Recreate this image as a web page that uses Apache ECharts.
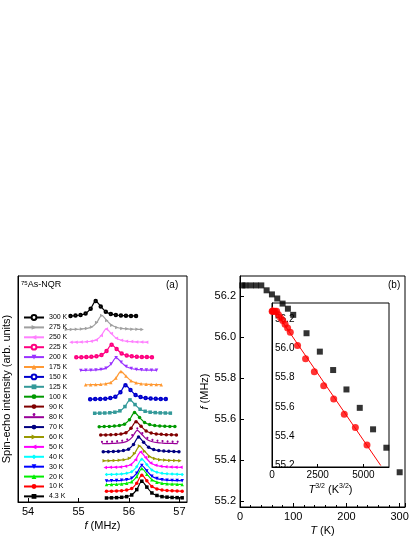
<!DOCTYPE html>
<html><head><meta charset="utf-8">
<script src="https://cdn.jsdelivr.net/npm/echarts@6/dist/echarts.min.js"></script>
<style>html,body{margin:0;background:#fff}#c{width:415px;height:537px}</style>
</head><body><div id="c"></div>
<script>
var temps = ['300 K','275 K','250 K','225 K','200 K','175 K','150 K','125 K','100 K','90 K','80 K','70 K','60 K','50 K','40 K','30 K','20 K','10 K','4.3 K'];
var tempK = [300,275,250,225,200,175,150,125,100,90,80,70,60,50,40,30,20,10,4.3];
var freq = [55.34,55.46,55.55,55.655,55.745,55.84,55.93,56.02,56.11,56.14,56.165,56.19,56.21,56.23,56.254,56.254,56.254,56.254,56.254];
var tPow = [5196,4560,3953,3375,2828,2315,1837,1398,1000,854,716,586,465,354,253,164,89,32,9];
var fitLine = [[0,56.285],[5950,55.2]];
var baseLine = [560,520,482,437,398,355,312,270,230,205,179,155,128,108,87,68,57,37,17];
var peakH = [45,42,40,38,38,40,42,40,42,40,40,44,44,46,46,46,48,48,50];
var shapeOff = [-0.7,-0.6,-0.5,-0.4,-0.3,-0.2,-0.1,0,0.1,0.2,0.3,0.4,0.5,0.6,0.7,0.8];
var shapeVal = [0,0.01,0.02,0.04,0.08,0.18,0.5,1.0,0.65,0.3,0.15,0.08,0.05,0.03,0.02,0.01];
var colors = ['#000000','#a0a0a0','#ff80ff','#ff0080','#9933ff','#ff9933','#0000cc','#339999','#009900','#800000','#990099','#000080','#999900','#ff00ff','#00ffff','#0000ff','#00ee00','#ff0000','#000000'];
var symbols = ['emptyCircle','triangle','triangle','emptyCircle','triangle','triangle','emptyCircle','rect','circle','circle','pin','circle','triangle','triangle','diamond','triangle','triangle','circle','rect'];
var symRot = [0,-90,90,0,180,0,0,0,0,0,0,0,-90,90,0,180,0,0,0];

var chart = echarts.init(document.getElementById('c'));
var ff = 'Liberation Sans, Arial, sans-serif';
var series = [];
temps.forEach(function(name, i) {
    var pts = [];
    for (var k = 0; k < shapeOff.length; k++) {
        // the 300 K curve starts right after its legend text
        if (i === 0 && shapeOff[k] < -0.55) continue;
        pts.push([freq[i] + shapeOff[k], baseLine[i] + peakH[i] * shapeVal[k]]);
    }
    series.push({
        name: name, type: 'line', xAxisIndex: 0, yAxisIndex: 0, data: pts,
        smooth: 0.3, symbol: symbols[i], symbolRotate: symRot[i],
        symbolSize: symbols[i] === 'emptyCircle' ? 2.5 : 3.5,
        lineStyle: {color: colors[i], width: 1.2}, itemStyle: {color: colors[i], borderWidth: 0.8}, z: 2
    });
});
// panel b main
series.push({
    type: 'scatter', xAxisIndex: 1, yAxisIndex: 1, symbol: 'rect', symbolSize: 6,
    itemStyle: {color: '#000'},
    data: tempK.map(function(t, i) { return [t, freq[i]]; })
});
// inset
series.push({
    type: 'line', xAxisIndex: 2, yAxisIndex: 2, data: fitLine, symbol: 'none',
    lineStyle: {color: '#ff0000', width: 1}
});
series.push({
    type: 'scatter', xAxisIndex: 2, yAxisIndex: 2, symbolSize: 7,
    itemStyle: {color: '#ff0000'},
    data: tPow.map(function(t, i) { return [t, freq[i]]; }), z: 5
});

function axisBase(extra) {
    var a = {
        axisLine: {onZero: false, lineStyle: {color: '#000', width: 1}},
        axisTick: {inside: true, length: 4, lineStyle: {color: '#000'}},
        minorTick: {show: true, length: 2, lineStyle: {color: '#000'}},
        splitLine: {show: false},
        axisLabel: {color: '#000', fontSize: 11, fontFamily: ff, margin: 4},
        nameTextStyle: {color: '#000', fontSize: 11, fontFamily: ff}
    };
    for (var k in extra) a[k] = extra[k];
    return a;
}
var fmt1 = function(v) { return v.toFixed(1); };
var yTicks = [55.2,55.4,55.6,55.8,56.0,56.2];

var option = {
    animation: false,
    backgroundColor: '#fff',
    grid: [
        {left: 18, top: 276, width: 169, height: 226, show: true, borderColor: '#000', borderWidth: 1},
        {left: 240, top: 276, width: 165, height: 232, show: true, borderColor: '#000', borderWidth: 1},
        {left: 272, top: 303, width: 117, height: 164, show: true, borderColor: '#000', borderWidth: 1, backgroundColor: '#fff'}
    ],
    legend: {
        orient: 'vertical', left: 18, top: 309, itemWidth: 20, itemHeight: 6, itemGap: 2.9, z: 10,
        data: temps, textStyle: {fontSize: 7, fontFamily: ff, color: '#000'}
    },
    xAxis: [
        axisBase({gridIndex: 0, type: 'value', min: 53.8, max: 57.15,
            axisLabel: {color: '#000', fontSize: 11, fontFamily: ff, margin: 4, customValues: [54,55,56,57]},
            axisTick: {inside: true, length: 4, customValues: [54,55,56,57], lineStyle: {color: '#000'}},
            minorTick: {show: false},
            name: '{i|f} (MHz)', nameLocation: 'middle', nameGap: 18,
            nameTextStyle: {color: '#000', fontSize: 11, fontFamily: ff, rich: {i: {fontStyle: 'italic', fontSize: 11, fontFamily: ff}}}}),
        axisBase({gridIndex: 1, type: 'value', min: 0, max: 310, interval: 100,
            name: '{i|T} (K)', nameLocation: 'middle', nameGap: 18,
            nameTextStyle: {color: '#000', fontSize: 11, fontFamily: ff, rich: {i: {fontStyle: 'italic', fontSize: 11, fontFamily: ff}}}}),
        axisBase({gridIndex: 2, type: 'value', min: 0, max: 6400,
            axisLabel: {color: '#000', fontSize: 10, fontFamily: ff, margin: 3, customValues: [0,2500,5000], formatter: function(v){return String(v);}},
            axisTick: {inside: true, length: 3, customValues: [0,2500,5000], lineStyle: {color: '#000'}},
            minorTick: {show: false},
            name: '{i|T}{s|3/2} (K{s|3/2})', nameLocation: 'middle', nameGap: 16,
            nameTextStyle: {color: '#000', fontSize: 11, fontFamily: ff, rich: {i: {fontStyle: 'italic', fontSize: 11, fontFamily: ff}, s: {fontSize: 7, verticalAlign: 'top', padding: [0,0,6,0], fontFamily: ff}}}})
    ],
    yAxis: [
        {gridIndex: 0, type: 'value', min: 5, max: 680, axisLabel: {show: false}, axisTick: {show: false}, splitLine: {show: false},
            axisLine: {lineStyle: {color: '#000'}},
            name: 'Spin-echo intensity (arb. units)', nameLocation: 'middle', nameGap: 6,
            nameTextStyle: {color: '#000', fontSize: 11, fontFamily: ff}},
        axisBase({gridIndex: 1, type: 'value', min: 55.17, max: 56.3,
            axisLabel: {color: '#000', fontSize: 11, fontFamily: ff, margin: 4, customValues: yTicks, formatter: fmt1},
            axisTick: {inside: true, length: 4, customValues: yTicks, lineStyle: {color: '#000'}},
            minorTick: {show: false},
            name: '{i|f} (MHz)', nameLocation: 'middle', nameGap: 28,
            nameTextStyle: {color: '#000', fontSize: 11, fontFamily: ff, rich: {i: {fontStyle: 'italic', fontSize: 11, fontFamily: ff}}}}),
        axisBase({gridIndex: 2, type: 'value', min: 55.19, max: 56.31,
            axisLabel: {color: '#000', fontSize: 10, fontFamily: ff, margin: 3, inside: true, customValues: yTicks, formatter: fmt1},
            axisTick: {show: false},
            minorTick: {show: false}})
    ],
    graphic: [
        {type: 'text', left: 21, top: 280, style: {text: '{s|75}As-NQR', fontSize: 9, fontFamily: ff, fill: '#000', rich: {s: {fontSize: 6, verticalAlign: 'top', fontFamily: ff}}}},
        {type: 'text', left: 166, top: 280, style: {text: '(a)', fontSize: 10, fontFamily: ff, fill: '#000'}},
        {type: 'text', left: 388, top: 280, style: {text: '(b)', fontSize: 10, fontFamily: ff, fill: '#000'}}
    ],
    series: series
};
chart.setOption(option);
</script></body></html>
